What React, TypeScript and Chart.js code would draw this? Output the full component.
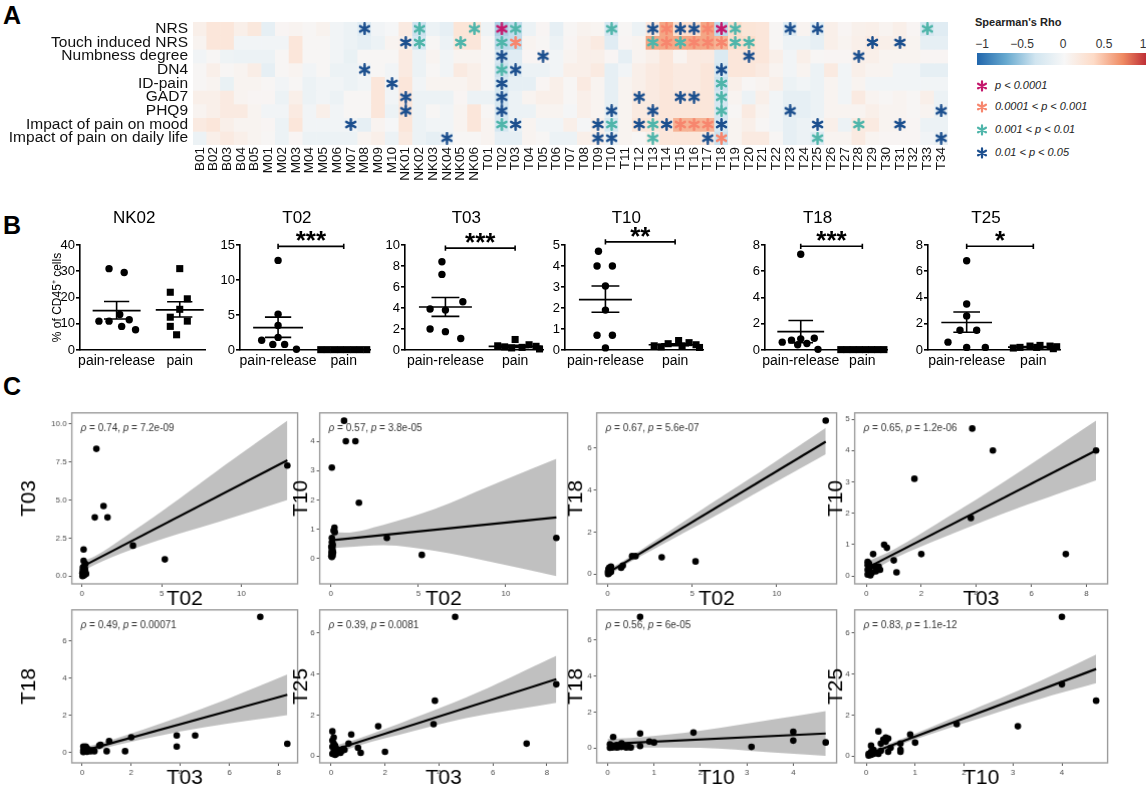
import React, { useEffect, useRef } from 'react';
import { Chart, registerables } from 'chart.js';

Chart.register(...registerables);

const FONT = '"Liberation Sans", Arial, Helvetica, sans-serif';
Chart.defaults.font.family = FONT;
Chart.defaults.color = '#000';

// ================= Panel A : heatmap data =================
const heatCols = [
  'B01', 'B02', 'B03', 'B04', 'B05',
  'M01', 'M02', 'M03', 'M04', 'M05', 'M06', 'M07', 'M08', 'M09', 'M10',
  'NK01', 'NK02', 'NK03', 'NK04', 'NK05', 'NK06',
  'T01', 'T02', 'T03', 'T04', 'T05', 'T06', 'T07', 'T08', 'T09', 'T10',
  'T11', 'T12', 'T13', 'T14', 'T15', 'T16', 'T17', 'T18', 'T19', 'T20',
  'T21', 'T22', 'T23', 'T24', 'T25', 'T26', 'T27', 'T28', 'T29', 'T30',
  'T31', 'T32', 'T33', 'T34',
];

const heatRows = [
  'NRS', 'Touch induced NRS', 'Numbness degree', 'DN4', 'ID-pain', 'GAD7', 'PHQ9',
  'Impact of pain on mood', 'Impact of pain on daily life',
];

const rhoNRS = [
  0.10, 0.20, 0.20, 0.10, 0.18,
  -0.15, 0.03, 0.05, 0.02, 0.06, -0.05, -0.10, -0.20, -0.05, -0.02,
  0.15, -0.35, -0.10, -0.15, 0.22, 0.22,
  -0.08, -0.45, -0.38, -0.10, 0.03, -0.15, 0.02, 0.06, 0.04, -0.30,
  0.02, -0.10, 0.20, 0.55, 0.30, 0.30, 0.55, -0.40, 0.30, 0.22,
  0.20, 0.02, -0.20, 0.05, -0.18, 0.10, 0.03, 0.08, 0.10, 0.05,
  0.10, 0.03, -0.28, -0.20,
];
const rhoTouch = [
  0.05, 0.20, 0.20, -0.05, -0.05,
  -0.05, -0.05, 0.20, 0.02, 0.02, -0.05, -0.10, -0.15, -0.10, 0.05,
  0.10, -0.30, 0.02, -0.10, 0.20, 0.20,
  0.02, -0.40, -0.38, 0.05, 0.02, -0.10, 0.03, 0.10, 0.15, -0.20,
  0.03, 0.05, 0.55, 0.55, 0.55, 0.55, 0.55, 0.50, 0.30, 0.30,
  0.20, 0.02, -0.10, -0.10, -0.15, 0.10, 0.05, 0.10, 0.15, 0.10,
  0.10, 0.05, -0.15, -0.15,
];
const rhoNumbness = [
  -0.05, 0.02, -0.08, -0.10, -0.10,
  -0.10, 0.02, 0.20, 0.02, 0.02, -0.05, -0.12, 0.02, 0.02, 0.02,
  0.15, -0.10, 0.05, -0.05, 0.05, 0.05,
  0.02, -0.30, -0.20, 0.03, 0.03, -0.05, 0.05, 0.10, 0.10, 0.03,
  -0.15, 0.05, 0.10, 0.20, 0.05, 0.15, 0.15, -0.25, 0.20, 0.20,
  0.20, 0.10, -0.05, 0.10, 0.02, 0.03, 0.03, 0.10, 0.10, 0.05,
  0.05, 0.05, 0.03, 0.03,
];
const rhoDN4 = [
  0.02, 0.10, 0.02, 0.05, 0.12,
  -0.15, 0.02, 0.05, -0.05, 0.02, -0.10, -0.10, -0.05, 0.02, -0.05,
  0.15, -0.10, 0.02, -0.05, 0.15, 0.10,
  0.02, -0.35, -0.20, -0.10, -0.10, -0.05, 0.10, 0.10, 0.15, -0.15,
  -0.05, 0.10, 0.15, 0.20, 0.15, 0.15, 0.20, -0.30, 0.20, 0.20,
  0.15, 0.05, -0.05, 0.05, -0.10, 0.15, -0.05, 0.10, 0.05, 0.05,
  -0.05, -0.05, -0.15, -0.15,
];
const rhoIDpain = [
  0.02, 0.05, -0.12, 0.05, 0.05,
  0.02, -0.05, 0.02, -0.10, -0.05, -0.05, -0.10, -0.05, 0.20, -0.05,
  0.20, -0.05, 0.05, 0.05, 0.05, 0.10,
  0.02, -0.30, -0.15, -0.15, 0.03, 0.10, 0.02, 0.15, 0.05, -0.15,
  0.05, 0.10, 0.15, 0.20, 0.15, 0.15, 0.20, -0.35, 0.10, 0.02,
  0.05, 0.10, -0.10, -0.05, -0.10, 0.05, -0.05, 0.05, -0.05, -0.05,
  -0.05, -0.05, -0.05, -0.05,
];
const rhoGAD7 = [
  0.10, 0.10, 0.15, 0.05, 0.03,
  0.03, -0.10, 0.10, -0.10, -0.05, -0.10, 0.02, 0.02, 0.20, -0.05,
  0.20, -0.10, -0.10, -0.10, 0.03, -0.10,
  -0.10, -0.30, -0.10, 0.05, 0.10, 0.10, 0.02, 0.10, 0.05, -0.15,
  0.05, 0.15, 0.15, 0.20, 0.20, 0.20, 0.20, -0.30, 0.05, -0.10,
  0.10, -0.05, -0.15, -0.15, -0.10, 0.05, -0.05, 0.15, 0.05, 0.02,
  0.05, 0.02, 0.10, -0.10,
];
const rhoPHQ9 = [
  0.05, 0.10, 0.15, 0.15, 0.05,
  -0.05, -0.05, 0.15, -0.05, 0.10, -0.05, 0.02, 0.02, 0.20, -0.10,
  0.20, -0.10, 0.02, -0.05, 0.05, 0.20,
  0.02, -0.30, -0.10, -0.10, 0.05, 0.05, -0.03, 0.10, 0.05, -0.15,
  0.05, 0.15, 0.15, 0.20, 0.20, 0.20, 0.20, -0.30, 0.02, 0.15,
  0.05, -0.05, -0.15, -0.15, -0.10, 0.05, 0.05, 0.05, 0.10, 0.05,
  0.05, 0.02, 0.05, -0.10,
];
const rhoMood = [
  0.15, 0.20, 0.10, 0.05, 0.05,
  0.03, -0.10, 0.20, -0.05, -0.05, -0.05, -0.05, -0.15, 0.05, -0.02,
  0.20, -0.10, -0.05, -0.05, 0.05, 0.20,
  0.05, -0.30, -0.10, 0.05, -0.05, -0.05, 0.10, -0.03, 0.10, -0.30,
  0.05, 0.20, 0.20, 0.20, 0.50, 0.50, 0.50, -0.30, 0.05, 0.10,
  0.02, -0.05, -0.15, -0.10, -0.05, 0.10, -0.10, 0.15, 0.15, 0.05,
  0.05, 0.03, -0.10, -0.10,
];
const rhoDaily = [
  -0.10, 0.10, 0.15, 0.10, 0.05,
  0.02, -0.10, 0.03, -0.10, -0.10, -0.10, -0.10, 0.05, 0.10, -0.10,
  0.15, -0.10, -0.15, -0.10, 0.02, 0.02,
  0.05, -0.15, -0.15, 0.05, 0.02, -0.10, -0.10, 0.10, 0.10, -0.10,
  0.05, 0.02, 0.10, 0.20, 0.20, 0.20, 0.15, -0.35, 0.05, 0.15,
  0.15, 0.02, -0.15, -0.10, -0.20, 0.05, 0.05, 0.15, 0.05, 0.03,
  0.03, 0.03, -0.05, -0.10,
];
const rhoRows = [rhoNRS, rhoTouch, rhoNumbness, rhoDN4, rhoIDpain, rhoGAD7, rhoPHQ9, rhoMood, rhoDaily];

// significance level per cell: 4 = p<0.0001, 3 = p<0.001, 2 = p<0.01, 1 = p<0.05
const sigNRS: [string, number][] = [
  ['M08', 1], ['NK02', 2], ['NK06', 2], ['T02', 4], ['T03', 2], ['T10', 2], ['T13', 1], ['T14', 3],
  ['T15', 1], ['T16', 1], ['T17', 3], ['T18', 4], ['T19', 2], ['T23', 1], ['T25', 1], ['T33', 2],
];
const sigTouch: [string, number][] = [
  ['NK01', 1], ['NK02', 2], ['NK05', 2], ['T02', 2], ['T03', 3], ['T13', 2], ['T14', 3], ['T15', 2],
  ['T16', 3], ['T17', 3], ['T18', 3], ['T19', 2], ['T20', 2], ['T29', 1], ['T31', 1],
];
const sigNumbness: [string, number][] = [['T02', 1], ['T05', 1], ['T20', 1], ['T28', 1]];
const sigDN4: [string, number][] = [['M08', 1], ['T02', 2], ['T03', 1], ['T18', 1]];
const sigIDpain: [string, number][] = [['M10', 1], ['T02', 1], ['T18', 2]];
const sigGAD7: [string, number][] = [['NK01', 1], ['T02', 1], ['T12', 1], ['T15', 1], ['T16', 1], ['T18', 2]];
const sigPHQ9: [string, number][] = [
  ['NK01', 1], ['T02', 1], ['T10', 1], ['T13', 1], ['T18', 2], ['T23', 1], ['T34', 1],
];
const sigMood: [string, number][] = [
  ['M07', 1], ['T02', 2], ['T03', 1], ['T09', 1], ['T10', 2], ['T12', 1], ['T13', 2], ['T14', 1],
  ['T15', 3], ['T16', 3], ['T17', 3], ['T18', 1], ['T25', 1], ['T28', 2], ['T31', 1],
];
const sigDaily: [string, number][] = [
  ['NK04', 1], ['T09', 1], ['T10', 1], ['T13', 2], ['T17', 1], ['T18', 3], ['T25', 2], ['T34', 1],
];
const sigRows = [sigNRS, sigTouch, sigNumbness, sigDN4, sigIDpain, sigGAD7, sigPHQ9, sigMood, sigDaily];

const sigLevels = [4, 3, 2, 1];
const sigColors = ['#c4176c', '#f7866e', '#4fb5aa', '#1c4f8e'];
const sigLabels = ['p < 0.0001', '0.0001 < p < 0.001', '0.001 < p < 0.01', '0.01 < p < 0.05'];
const colorbarTicks = ['\u22121', '\u22120.5', '0', '0.5', '1'];

// RdBu palette stops
const rdbuStops: [number, number[]][] = [
  [-1, [33, 102, 172]],
  [-2 / 3, [103, 169, 207]],
  [-1 / 3, [209, 229, 240]],
  [0, [247, 247, 247]],
  [1 / 3, [253, 219, 199]],
  [2 / 3, [239, 138, 98]],
  [1, [178, 24, 43]],
];
function rhoColor(v: number): string {
  const x = Math.max(-1, Math.min(1, v));
  for (let i = 0; i < rdbuStops.length - 1; i++) {
    const [a, ca] = rdbuStops[i];
    const [b, cb] = rdbuStops[i + 1];
    if (x >= a && x <= b) {
      const t = (x - a) / (b - a);
      const c = ca.map((q, k) => Math.round(q + (cb[k] - q) * t));
      return `rgb(${c[0]},${c[1]},${c[2]})`;
    }
  }
  return '#f7f7f7';
}

// ================= Panel B : dot plots =================
const nk02Release = [31, 29.5, 13.5, 11, 11, 11.5, 9, 7.7];
const nk02ReleaseJitter = [-0.12, 0.12, 0.05, -0.28, -0.12, 0.2, 0.08, 0.3];
const nk02Pain = [31, 22, 19.5, 15.5, 12.5, 11, 9, 5.8];
const nk02PainJitter = [0.0, -0.15, 0.12, 0.0, -0.15, 0.12, -0.15, -0.05];
const nk02Summary = [15.0, 18.5, 11.8, 15.3, 18.4, 12.6];

const t02Release = [12.8, 5.1, 3.5, 1.8, 1.4, 0.8, 0.8, 0.1];
const t02ReleaseJitter = [0.0, 0.0, 0.0, 0.0, -0.25, -0.08, 0.1, 0.28];
const t02Pain = [0.05, 0.05, 0.05, 0.05, 0.05, 0.05, 0.05, 0.05];
const t02PainJitter = [-0.35, -0.25, -0.15, -0.05, 0.05, 0.15, 0.25, 0.35];
const t02Summary = [3.2, 4.7, 1.8, 0.05, 0.05, 0.05];

const t03Release = [8.4, 7.2, 4.6, 3.9, 3.8, 2.0, 1.75, 1.1];
const t03ReleaseJitter = [-0.05, -0.05, 0.25, -0.22, 0.0, -0.22, 0.0, 0.22];
const t03Pain = [1.0, 0.5, 0.4, 0.35, 0.3, 0.25, 0.2, 0.1];
const t03PainJitter = [0.0, 0.2, -0.25, 0.3, -0.15, 0.1, -0.05, 0.35];
const t03Summary = [4.1, 5.0, 3.2, 0.35, 0.45, 0.25];

const t10Release = [4.7, 4.0, 4.0, 3.05, 1.9, 0.7, 0.7, 0.1];
const t10ReleaseJitter = [-0.1, -0.12, 0.1, 0.0, 0.0, -0.12, 0.1, 0.0];
const t10Pain = [0.45, 0.35, 0.3, 0.25, 0.2, 0.2, 0.15, 0.12];
const t10PainJitter = [0.05, 0.2, -0.1, 0.3, -0.3, 0.1, -0.2, 0.35];
const t10Summary = [2.4, 3.05, 1.8, 0.25, 0.3, 0.2];

const t18Release = [7.3, 0.9, 0.85, 0.75, 0.6, 0.5, 0.4, 0.05];
const t18ReleaseJitter = [0.0, 0.22, 0.0, -0.15, -0.3, 0.1, -0.05, 0.28];
const t18Pain = [0.03, 0.03, 0.03, 0.03, 0.03, 0.03, 0.03, 0.03];
const t18PainJitter = [-0.35, -0.25, -0.15, -0.05, 0.05, 0.15, 0.25, 0.35];
const t18Summary = [1.4, 2.25, 0.55, 0.03, 0.03, 0.03];

const t25Release = [6.8, 3.5, 2.6, 1.5, 1.5, 0.6, 0.2, 0.2];
const t25ReleaseJitter = [0.0, 0.0, 0.0, -0.1, 0.15, -0.28, 0.0, 0.28];
const t25Pain = [0.35, 0.3, 0.3, 0.25, 0.2, 0.2, 0.15, 0.1];
const t25PainJitter = [0.1, 0.25, -0.05, 0.35, -0.2, 0.05, -0.3, 0.3];
const t25Summary = [2.1, 2.9, 1.35, 0.22, 0.27, 0.17];

const groupLabels = ['pain-release', 'pain'];

interface DotPanel {
  title: string; yMax: number; yStep: number;
  release: number[]; releaseJitter: number[]; pain: number[]; painJitter: number[];
  summary: number[]; stars: string; bracket: number; yTitle?: string;
}
const dotPanels: DotPanel[] = [
  { title: 'NK02', yMax: 40, yStep: 10, release: nk02Release, releaseJitter: nk02ReleaseJitter, pain: nk02Pain, painJitter: nk02PainJitter, summary: nk02Summary, stars: '', bracket: 0, yTitle: '% of CD45\u207A cells' },
  { title: 'T02', yMax: 15, yStep: 5, release: t02Release, releaseJitter: t02ReleaseJitter, pain: t02Pain, painJitter: t02PainJitter, summary: t02Summary, stars: '***', bracket: 14.8 },
  { title: 'T03', yMax: 10, yStep: 2, release: t03Release, releaseJitter: t03ReleaseJitter, pain: t03Pain, painJitter: t03PainJitter, summary: t03Summary, stars: '***', bracket: 9.7 },
  { title: 'T10', yMax: 5, yStep: 1, release: t10Release, releaseJitter: t10ReleaseJitter, pain: t10Pain, painJitter: t10PainJitter, summary: t10Summary, stars: '**', bracket: 5.15 },
  { title: 'T18', yMax: 8, yStep: 2, release: t18Release, releaseJitter: t18ReleaseJitter, pain: t18Pain, painJitter: t18PainJitter, summary: t18Summary, stars: '***', bracket: 7.9 },
  { title: 'T25', yMax: 8, yStep: 2, release: t25Release, releaseJitter: t25ReleaseJitter, pain: t25Pain, painJitter: t25PainJitter, summary: t25Summary, stars: '*', bracket: 7.9 },
];
// layout (pixels) for the dot plots
const dotLayout = [
  { axisX: 80, w: 125 }, { axisX: 240, w: 130 }, { axisX: 405, w: 138 },
  { axisX: 565, w: 138 }, { axisX: 765, w: 122 }, { axisX: 928, w: 132 },
];

// ================= Panel C : correlation plots =================
const c1Points = [[12.9, 7.25], [5.2, 1.1], [3.2, 2.0], [0.9, 8.35], [0.8, 3.85], [1.6, 3.85], [1.35, 4.6], [0.1, 1.75], [0.1, 1.0], [0.2, 0.8], [0.05, 0.55], [0.15, 0.45], [0.05, 0.35], [0.1, 0.25], [0.05, 0.15], [0.15, 0.1], [0.05, 0.05], [0.2, 0.3], [0.1, 0.6], [0.02, 0.2], [0.08, 0.4], [0.12, 0.05], [0.25, 0.15], [0.03, 0.0], [0.18, 0.5]];
const c1Line = [[0, 0.62], [12.9, 7.6]];
const c1BandX = [0, 0.8, 3, 6, 9, 12.9];
const c1BandLo = [0.3, 0.75, 1.7, 2.75, 3.7, 5.0];
const c1BandHi = [0.95, 1.3, 2.8, 5.0, 7.3, 10.2];

const c2Points = [[0.75, 4.7], [0.85, 4.0], [1.4, 4.0], [0.05, 3.1], [1.6, 1.9], [0.2, 1.05], [0.15, 0.95], [0.22, 0.9], [3.2, 0.7], [12.9, 0.7], [5.2, 0.12], [0.05, 0.7], [0.05, 0.55], [0.1, 0.45], [0.02, 0.4], [0.08, 0.35], [0.05, 0.3], [0.1, 0.25], [0.03, 0.2], [0.06, 0.15], [0.1, 0.1], [0.02, 0.08], [0.05, 0.05], [0.12, 0.2], [0.08, 0.5]];
const c2Line = [[0, 0.62], [12.9, 1.4]];
const c2BandX = [0, 0.8, 3, 6, 9, 12.9];
const c2BandLo = [0.35, 0.38, 0.45, 0.25, -0.1, -0.6];
const c2BandHi = [0.9, 0.88, 1.15, 1.7, 2.45, 3.4];

const c3Points = [[12.9, 7.3], [3.2, 0.8], [5.2, 0.6], [1.45, 0.85], [1.65, 0.85], [0.8, 0.3], [0.9, 0.4], [0.2, 0.35], [0.15, 0.25], [0.1, 0.3], [0.05, 0.2], [0.1, 0.15], [0.02, 0.1], [0.08, 0.05], [0.05, 0.02], [0.12, 0.08], [0.03, 0.0], [0.2, 0.1], [0.06, 0.25], [0.15, 0.12]];
const c3Line = [[0, 0.05], [12.9, 6.3]];
const c3BandX = [0, 0.8, 3, 6, 9, 12.9];
const c3BandLo = [-0.1, 0.32, 1.3, 2.6, 3.95, 5.7];
const c3BandHi = [0.2, 0.56, 1.7, 3.3, 4.85, 6.95];

const c4Points = [[3.85, 4.7], [4.6, 4.0], [8.35, 4.0], [1.75, 3.1], [3.8, 1.85], [0.65, 1.0], [0.75, 0.9], [0.25, 0.7], [2.0, 0.7], [7.25, 0.7], [1.0, 0.5], [1.1, 0.12], [0.05, 0.45], [0.1, 0.4], [0.05, 0.35], [0.15, 0.3], [0.3, 0.3], [0.4, 0.25], [0.5, 0.2], [0.05, 0.2], [0.1, 0.15], [0.2, 0.1], [0.05, 0.05], [0.15, 0.02], [0.35, 0.15], [0.45, 0.3], [0.1, 0.25]];
const c4Line = [[0, 0.25], [8.35, 4.0]];
const c4BandX = [0, 1, 3, 5, 8.35];
const c4BandLo = [0.05, 0.55, 1.3, 2.0, 3.05];
const c4BandHi = [0.45, 0.85, 1.9, 3.0, 4.95];

const c5Points = [[7.25, 7.3], [8.35, 0.45], [3.85, 0.9], [4.6, 0.9], [3.85, 0.3], [2.0, 0.8], [1.75, 0.05], [1.0, 0.05], [1.1, 0.6], [0.7, 0.35], [0.75, 0.4], [0.5, 0.05], [0.05, 0.3], [0.1, 0.25], [0.2, 0.2], [0.15, 0.15], [0.05, 0.1], [0.3, 0.1], [0.1, 0.05], [0.2, 0.02], [0.05, 0.0], [0.35, 0.05], [0.4, 0.1], [0.15, 0.3]];
const c5Line = [[0, 0.05], [8.35, 3.1]];
const c5BandX = [0, 1, 3, 5, 8.35];
const c5BandLo = [-0.15, 0.25, 0.85, 1.35, 2.0];
const c5BandHi = [0.25, 0.58, 1.45, 2.4, 4.2];

const c6Points = [[4.6, 6.8], [8.35, 3.5], [3.85, 2.7], [3.8, 1.55], [1.75, 1.45], [7.25, 0.6], [0.75, 1.05], [2.0, 0.2], [1.0, 0.4], [1.1, 0.15], [0.65, 0.6], [0.05, 1.2], [0.1, 0.9], [0.05, 0.75], [0.1, 0.6], [0.15, 0.5], [0.05, 0.45], [0.2, 0.35], [0.3, 0.3], [0.4, 0.25], [0.5, 0.3], [0.1, 0.2], [0.05, 0.1], [0.2, 0.1], [0.15, 0.05], [0.35, 0.15], [0.25, 0.2], [0.45, 0.35]];
const c6Line = [[0, 0.25], [8.35, 3.75]];
const c6BandX = [0, 1, 3, 5, 8.35];
const c6BandLo = [0.05, 0.5, 1.2, 1.85, 2.6];
const c6BandHi = [0.45, 0.84, 1.82, 2.85, 4.9];

const c7Points = [[0.7, 7.3], [0.7, 0.8], [0.7, 0.1], [1.85, 0.85], [4.0, 0.9], [4.0, 0.4], [4.7, 0.3], [3.1, 0.05], [0.9, 0.35], [1.0, 0.3], [0.12, 0.6], [0.3, 0.25], [0.05, 0.2], [0.1, 0.1], [0.15, 0.05], [0.2, 0.02], [0.25, 0.05], [0.05, 0.0], [0.35, 0.1], [0.4, 0.02], [0.45, 0.05], [0.5, 0.02], [0.1, 0.02], [0.2, 0.15], [0.3, 0.05]];
const c7Line = [[0, 0.22], [4.7, 0.8]];
const c7BandX = [0, 0.5, 2, 3.5, 4.7];
const c7BandLo = [-0.05, 0.02, 0.0, -0.25, -0.45];
const c7BandHi = [0.5, 0.55, 0.95, 1.55, 2.05];

const c8Points = [[4.0, 6.8], [4.0, 3.5], [4.7, 2.7], [3.1, 1.45], [1.85, 1.55], [0.9, 1.05], [1.0, 0.65], [0.25, 1.2], [0.4, 0.9], [0.45, 0.85], [0.35, 0.8], [0.7, 0.6], [0.7, 0.2], [0.7, 0.3], [0.45, 0.2], [0.5, 0.4], [0.1, 0.5], [0.15, 0.3], [0.1, 0.2], [0.05, 0.1], [0.2, 0.15], [0.3, 0.25], [0.1, 0.05], [0.05, 0.02], [0.25, 0.1], [0.15, 0.1], [0.3, 0.6], [0.4, 0.7]];
const c8Line = [[0, 0.05], [4.7, 4.25]];
const c8BandX = [0, 0.5, 2, 3.5, 4.7];
const c8BandLo = [-0.1, 0.38, 1.6, 2.75, 3.55];
const c8BandHi = [0.2, 0.62, 2.08, 3.6, 4.95];

interface CorrPanel {
  xTitle: string; yTitle: string; rho: string; p: string;
  xMin: number; xMax: number; xStep: number; yMin: number; yMax: number; yStep: number; yDigits: number;
  points: number[][]; line: number[][]; bandX: number[]; bandLo: number[]; bandHi: number[];
}
const corrPanels: CorrPanel[] = [
  { xTitle: 'T02', yTitle: 'T03', rho: '0.74', p: '7.2e-09', xMin: -0.645, xMax: 13.545, xStep: 5, yMin: -0.51, yMax: 10.71, yStep: 2.5, yDigits: 1, points: c1Points, line: c1Line, bandX: c1BandX, bandLo: c1BandLo, bandHi: c1BandHi },
  { xTitle: 'T02', yTitle: 'T10', rho: '0.57', p: '3.8e-05', xMin: -0.645, xMax: 13.545, xStep: 5, yMin: -0.87, yMax: 4.97, yStep: 1, yDigits: 0, points: c2Points, line: c2Line, bandX: c2BandX, bandLo: c2BandLo, bandHi: c2BandHi },
  { xTitle: 'T02', yTitle: 'T18', rho: '0.67', p: '5.6e-07', xMin: -0.645, xMax: 13.545, xStep: 5, yMin: -0.47, yMax: 7.67, yStep: 2, yDigits: 0, points: c3Points, line: c3Line, bandX: c3BandX, bandLo: c3BandLo, bandHi: c3BandHi },
  { xTitle: 'T03', yTitle: 'T10', rho: '0.65', p: '1.2e-06', xMin: -0.42, xMax: 8.77, xStep: 2, yMin: -0.25, yMax: 5.2, yStep: 1, yDigits: 0, points: c4Points, line: c4Line, bandX: c4BandX, bandLo: c4BandLo, bandHi: c4BandHi },
  { xTitle: 'T03', yTitle: 'T18', rho: '0.49', p: '0.00071', xMin: -0.42, xMax: 8.77, xStep: 2, yMin: -0.58, yMax: 7.68, yStep: 2, yDigits: 0, points: c5Points, line: c5Line, bandX: c5BandX, bandLo: c5BandLo, bandHi: c5BandHi },
  { xTitle: 'T03', yTitle: 'T25', rho: '0.39', p: '0.0081', xMin: -0.42, xMax: 8.77, xStep: 2, yMin: -0.34, yMax: 7.14, yStep: 2, yDigits: 0, points: c6Points, line: c6Line, bandX: c6BandX, bandLo: c6BandLo, bandHi: c6BandHi },
  { xTitle: 'T10', yTitle: 'T18', rho: '0.56', p: '6e-05', xMin: -0.235, xMax: 4.935, xStep: 1, yMin: -0.84, yMax: 7.69, yStep: 2, yDigits: 0, points: c7Points, line: c7Line, bandX: c7BandX, bandLo: c7BandLo, bandHi: c7BandHi },
  { xTitle: 'T10', yTitle: 'T25', rho: '0.83', p: '1.1e-12', xMin: -0.235, xMax: 4.935, xStep: 1, yMin: -0.34, yMax: 7.14, yStep: 2, yDigits: 0, points: c8Points, line: c8Line, bandX: c8BandX, bandLo: c8BandLo, bandHi: c8BandHi },
];
// layout (pixels) for the correlation plots
const corrCols = [
  { boxL: 72, boxR: 298, titleX: 30 }, { boxL: 320, boxR: 568, titleX: 302 },
  { boxL: 597, boxR: 837, titleX: 577 }, { boxL: 855, boxR: 1108, titleX: 837 },
];
const corrRows = [{ top: 408, bottom: 583, titleY: 598 }, { top: 605, bottom: 762, titleY: 777 }];

// ================= helpers =================
function drawStar(g: CanvasRenderingContext2D, cx: number, cy: number, r: number, lw: number, color: string) {
  g.save();
  g.strokeStyle = color;
  g.lineWidth = lw;
  g.lineCap = 'round';
  g.beginPath();
  for (let k = 0; k < 3; k++) {
    const a = Math.PI / 2 + (k * Math.PI) / 3;
    g.moveTo(cx + r * Math.cos(a), cy + r * Math.sin(a));
    g.lineTo(cx - r * Math.cos(a), cy - r * Math.sin(a));
  }
  g.stroke();
  g.restore();
}
function makeStar(color: string): HTMLCanvasElement {
  const c = document.createElement('canvas');
  c.width = 13;
  c.height = 13;
  drawStar(c.getContext('2d')!, 6.5, 6.5, 5.2, 2.5, color);
  return c;
}

function heatConfig(): any {
  const glyphs = sigColors.map(makeStar);
  const datasets: any[] = rhoRows.map((vals, r) => ({
    type: 'bar',
    label: heatRows[r],
    data: vals.map(() => [r, r + 1]),
    backgroundColor: vals.map(rhoColor),
    borderWidth: 0,
    barPercentage: 1,
    categoryPercentage: 1,
    grouped: false,
    order: 5,
  }));
  sigLevels.forEach((lvl, k) => {
    const pts: any[] = [];
    sigRows.forEach((list, r) => list.forEach(([col, l]) => { if (l === lvl) pts.push({ x: col, y: r + 0.5 }); }));
    datasets.push({ type: 'scatter', label: sigLabels[k], data: pts, pointStyle: glyphs[k], pointRadius: 6, order: 0 });
  });
  return {
    type: 'bar',
    data: { labels: heatCols, datasets },
    options: {
      animation: false, responsive: true, maintainAspectRatio: false,
      layout: { padding: { top: 22, right: 12, left: 0, bottom: 0 } },
      plugins: { legend: { display: false }, tooltip: { enabled: false } },
      scales: {
        x: {
          type: 'category', offset: true,
          ticks: { autoSkip: false, maxRotation: 90, minRotation: 90, font: { size: 13.5 }, color: '#111', padding: 2 },
          grid: { display: false, drawTicks: false }, border: { display: false },
          afterFit: (s: any) => { s.height = 40; },
        },
        y: {
          type: 'linear', min: 0, max: 9, reverse: true,
          afterBuildTicks: (s: any) => { s.ticks = heatRows.map((_, i) => ({ value: i + 0.5 })); },
          ticks: { autoSkip: false, callback: (_v: any, i: number) => heatRows[i], font: { size: 15.5 }, color: '#111', padding: 5 },
          grid: { display: false, drawTicks: false }, border: { display: false },
          afterFit: (s: any) => { s.width = 193; },
        },
      },
    },
  };
}

const NAN_PT = { x: NaN, y: NaN };
function summarySegments(cx: number, m: number, hi: number, lo: number) {
  return [
    { x: cx - 0.38, y: m }, { x: cx + 0.38, y: m }, NAN_PT,
    { x: cx - 0.2, y: hi }, { x: cx + 0.2, y: hi }, NAN_PT,
    { x: cx, y: hi }, { x: cx, y: lo }, NAN_PT,
    { x: cx - 0.2, y: lo }, { x: cx + 0.2, y: lo },
  ];
}

const dotTextPlugin = {
  id: 'dotText',
  afterDraw(chart: any, _a: any, opts: any) {
    const { ctx, chartArea, scales } = chart;
    const cx = scales.x.getPixelForValue(1.5);
    ctx.save();
    ctx.fillStyle = '#000';
    ctx.textAlign = 'center';
    ctx.textBaseline = 'middle';
    ctx.font = `17px ${FONT}`;
    ctx.fillText(opts.title, cx - 14, chartArea.top - 27);
    if (opts.stars) {
      ctx.font = `bold 26px ${FONT}`;
      ctx.textBaseline = 'alphabetic';
      ctx.fillText(opts.stars, cx, scales.y.getPixelForValue(opts.bracket) + 3);
    }
    ctx.restore();
  },
};

function dotConfig(p: DotPanel): any {
  const s = p.summary;
  const lineStyle = { showLine: true, pointRadius: 0, borderColor: '#000', borderWidth: 1.6, spanGaps: false, clip: false };
  const datasets: any[] = [
    { data: p.release.map((v, i) => ({ x: 1 + p.releaseJitter[i], y: v })), pointStyle: 'circle', pointRadius: 3.7, backgroundColor: '#000', borderWidth: 0, clip: false },
    { data: p.pain.map((v, i) => ({ x: 2 + p.painJitter[i], y: v })), pointStyle: 'rect', pointRadius: 5, backgroundColor: '#000', borderWidth: 0, clip: false },
    { data: summarySegments(1, s[0], s[1], s[2]), ...lineStyle },
    { data: summarySegments(2, s[3], s[4], s[5]), ...lineStyle },
  ];
  if (p.stars) {
    const d = p.yMax * 0.025;
    datasets.push({
      data: [{ x: 1, y: p.bracket }, { x: 2, y: p.bracket }, NAN_PT, { x: 1, y: p.bracket - d }, { x: 1, y: p.bracket + d }, NAN_PT, { x: 2, y: p.bracket - d }, { x: 2, y: p.bracket + d }],
      ...lineStyle,
    });
  }
  return {
    type: 'scatter',
    data: { datasets },
    plugins: [dotTextPlugin],
    options: {
      animation: false, responsive: true, maintainAspectRatio: false,
      layout: { padding: { top: 45, right: 10, left: 0, bottom: 0 } },
      plugins: { legend: { display: false }, tooltip: { enabled: false }, dotText: { title: p.title, stars: p.stars, bracket: p.bracket } },
      scales: {
        x: {
          type: 'linear', min: 0.42, max: 2.4,
          afterBuildTicks: (sc: any) => { sc.ticks = [{ value: 1 }, { value: 2 }]; },
          ticks: { autoSkip: false, maxRotation: 0, callback: (v: number) => groupLabels[Math.round(v) - 1], font: { size: 14 }, color: '#000', padding: 3 },
          grid: { display: false, drawTicks: false },
          border: { display: true, color: '#000', width: 1.6 },
          afterFit: (sc: any) => { sc.height = 22; },
        },
        y: {
          type: 'linear', min: 0, max: p.yMax,
          ticks: { stepSize: p.yStep, font: { size: 13 }, color: '#000', padding: 1 },
          grid: { display: true, drawOnChartArea: false, drawTicks: true, tickLength: 4, color: '#000', lineWidth: 1.6 },
          border: { display: true, color: '#000', width: 1.6 },
          title: p.yTitle ? { display: true, text: p.yTitle, font: { size: 12 }, color: '#000', padding: 0 } : { display: false },
          afterFit: (sc: any) => { sc.width = 30; },
        },
      },
    },
  };
}

const corrPlugin = {
  id: 'corrDeco',
  afterDatasetsDraw(chart: any, _a: any, opts: any) {
    const { ctx, chartArea } = chart;
    ctx.save();
    ctx.strokeStyle = '#9c9c9c';
    ctx.lineWidth = 1.4;
    ctx.strokeRect(chartArea.left, chartArea.top, chartArea.right - chartArea.left, chartArea.bottom - chartArea.top);
    const parts: [string, boolean][] = [['\u03C1', true], [` = ${opts.rho}, `, false], ['p', true], [` = ${opts.p}`, false]];
    let x = chartArea.left + 9;
    const y = chartArea.top + 15;
    ctx.fillStyle = '#333';
    ctx.textBaseline = 'middle';
    ctx.textAlign = 'left';
    parts.forEach(([t, it]) => {
      ctx.font = `${it ? 'italic ' : ''}10px ${FONT}`;
      ctx.fillText(t, x, y);
      x += ctx.measureText(t).width;
    });
    ctx.restore();
  },
};

function corrConfig(c: CorrPanel, W: number, H: number): any {
  const tickFont = { size: 8 };
  return {
    type: 'scatter',
    data: {
      datasets: [
        { type: 'line', data: c.bandX.map((x, i) => ({ x, y: c.bandLo[i] })), borderWidth: 0, pointRadius: 0, fill: false, order: 3, cubicInterpolationMode: 'monotone' },
        { type: 'line', data: c.bandX.map((x, i) => ({ x, y: c.bandHi[i] })), borderWidth: 0, pointRadius: 0, fill: 0, backgroundColor: 'rgba(150,150,150,0.6)', order: 2, cubicInterpolationMode: 'monotone' },
        { type: 'scatter', data: c.points.map(([x, y]) => ({ x, y })), pointRadius: 3.3, backgroundColor: '#000', borderWidth: 0, order: 1 },
        { type: 'line', data: c.line.map(([x, y]) => ({ x, y })), borderColor: '#000', borderWidth: 2.2, pointRadius: 0, fill: false, order: 0 },
      ],
    },
    plugins: [corrPlugin],
    options: {
      animation: false, responsive: true, maintainAspectRatio: false,
      layout: { padding: { top: 2, right: 3, left: 0, bottom: 0 } },
      plugins: { legend: { display: false }, tooltip: { enabled: false }, corrDeco: { rho: c.rho, p: c.p } },
      scales: {
        x: {
          type: 'linear', min: c.xMin, max: c.xMax,
          ticks: { stepSize: c.xStep, includeBounds: false, font: tickFont, color: '#4d4d4d', padding: 2, maxRotation: 0 },
          grid: { display: true, drawOnChartArea: false, drawTicks: true, tickLength: 3, color: '#555' },
          border: { display: false },
          title: { display: true, text: c.xTitle, font: { size: 21 }, color: '#000', padding: 0 },
          afterFit: (s: any) => { s.height = H; },
        },
        y: {
          type: 'linear', min: c.yMin, max: c.yMax,
          ticks: { stepSize: c.yStep, includeBounds: false, font: tickFont, color: '#4d4d4d', padding: 2, callback: (v: number) => v.toFixed(c.yDigits) },
          grid: { display: true, drawOnChartArea: false, drawTicks: true, tickLength: 3, color: '#555' },
          border: { display: false },
          title: { display: true, text: c.yTitle, font: { size: 21 }, color: '#000', padding: 0 },
          afterFit: (s: any) => { s.width = W; },
        },
      },
    },
  };
}

// ================= components =================
function ChartBox({ left, top, width, height, make }: { left: number; top: number; width: number; height: number; make: () => any }) {
  const ref = useRef<HTMLCanvasElement>(null);
  useEffect(() => {
    const chart = new Chart(ref.current as HTMLCanvasElement, make());
    return () => chart.destroy();
  }, []);
  return (
    <div style={{ position: 'absolute', left, top, width, height }}>
      <canvas ref={ref} />
    </div>
  );
}

function StarIcon({ color, left, top }: { color: string; left: number; top: number }) {
  const ref = useRef<HTMLCanvasElement>(null);
  useEffect(() => {
    const g = (ref.current as HTMLCanvasElement).getContext('2d')!;
    g.clearRect(0, 0, 12, 12);
    drawStar(g, 6, 6, 4.6, 2.2, color);
  }, [color]);
  return <canvas ref={ref} width={12} height={12} style={{ position: 'absolute', left, top }} />;
}

const letterStyle: React.CSSProperties = { position: 'absolute', fontFamily: FONT, fontWeight: 'bold', fontSize: 25, color: '#000', lineHeight: '25px' };

export default function App() {
  useEffect(() => {
    document.body.style.margin = '0';
  }, []);
  const gradient = `linear-gradient(to right, ${rdbuStops.map(([v, c]) => `rgb(${c[0]},${c[1]},${c[2]}) ${((v + 1) / 2) * 100}%`).join(', ')})`;
  const tickXs = [982, 1022, 1063, 1104, 1143];
  const legendYs = [86, 107, 130, 153];
  return (
    <div style={{ position: 'relative', width: 1146, height: 791, background: '#fff', overflow: 'hidden', fontFamily: FONT }}>
      <div style={{ ...letterStyle, left: 3, top: 3 }}>A</div>
      <div style={{ ...letterStyle, left: 3, top: 213 }}>B</div>
      <div style={{ ...letterStyle, left: 3, top: 374 }}>C</div>

      <ChartBox left={0} top={0} width={960} height={185} make={heatConfig} />

      {/* heatmap legend */}
      <div style={{ position: 'absolute', left: 975, top: 16, fontSize: 11, fontWeight: 'bold', color: '#222' }}>Spearman's Rho</div>
      {colorbarTicks.map((t, i) => (
        <div key={t} style={{ position: 'absolute', left: tickXs[i] - 20, width: 40, top: 37, textAlign: 'center', fontSize: 12, color: '#333' }}>{t}</div>
      ))}
      <div style={{ position: 'absolute', left: 977, top: 53, width: 175, height: 12, background: gradient }} />
      {sigLabels.map((t, i) => (
        <React.Fragment key={t}>
          <StarIcon color={sigColors[i]} left={976} top={legendYs[i] - 6} />
          <div style={{ position: 'absolute', left: 995, top: legendYs[i] - 7, fontSize: 11, fontStyle: 'italic', color: '#222', whiteSpace: 'nowrap' }}>{t}</div>
        </React.Fragment>
      ))}

      {dotPanels.map((p, i) => {
        const L = dotLayout[i];
        return <ChartBox key={p.title} left={L.axisX - 30} top={200} width={L.w + 40} height={172} make={() => dotConfig(p)} />;
      })}

      {corrPanels.map((c, i) => {
        const col = corrCols[i % 4];
        const row = corrRows[Math.floor(i / 4)];
        const left = col.titleX - 12.6;
        const W = col.boxL - left;
        const top = row.top - 2;
        const H = row.titleY + 12.6 - row.bottom;
        return (
          <ChartBox key={i} left={left} top={top} width={col.boxR + 3 - left} height={row.bottom + H - top} make={() => corrConfig(c, W, H)} />
        );
      })}
    </div>
  );
}
